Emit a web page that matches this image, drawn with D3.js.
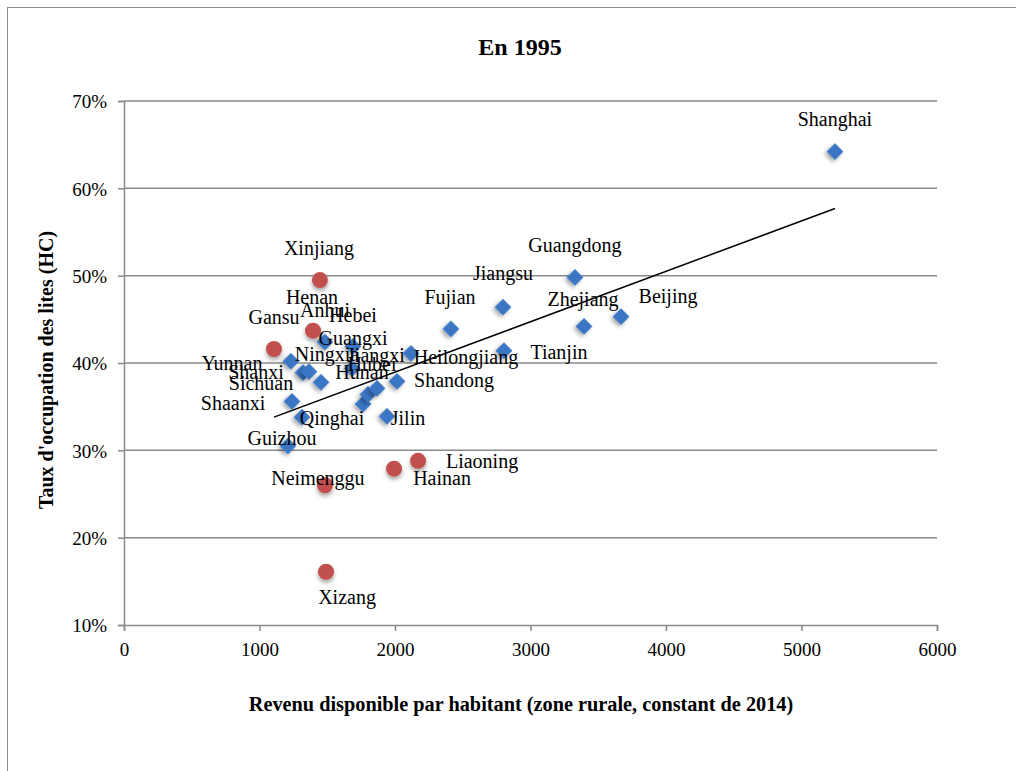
<!DOCTYPE html>
<html>
<head>
<meta charset="utf-8">
<script src="https://cdn.jsdelivr.net/npm/d3@7"></script>
<style>
  body { margin: 0; background: #fff; }
  svg text { font-family: "Liberation Serif", "Times New Roman", serif; fill: #000; }
</style>
</head>
<body>
<div id="chart"></div>
<script>
// Série 1 (losanges bleus)
const bleuNoms = ["Shanghai", "Guangdong", "Jiangsu", "Beijing", "Zhejiang", "Fujian", "Tianjin",
    "Heilongjiang", "Shandong", "Jilin", "Guizhou", "Shaanxi", "Yunnan", "Qinghai", "Ningxia",
    "Shanxi", "Sichuan", "Anhui", "Hebei", "Guangxi", "Hunan", "Hubei", "Jiangxi"];
const bleuRevenu = [5247, 3328, 2797, 3668, 3395, 2413, 2804, 2118, 2015, 1941, 1210, 1240, 1232,
    1314, 1321, 1365, 1454, 1483, 1690, 1683, 1764, 1801, 1867];
const bleuTaux = [0.642, 0.498, 0.464, 0.453, 0.442, 0.439, 0.414, 0.411, 0.379, 0.339, 0.305, 0.356,
    0.402, 0.338, 0.389, 0.390, 0.378, 0.424, 0.419, 0.394, 0.353, 0.364, 0.371];

// Série 2 (cercles rouges)
const rougeNoms = ["Xinjiang", "Henan", "Gansu", "Neimenggu", "Hainan", "Liaoning", "Xizang"];
const rougeRevenu = [1446, 1395, 1107, 1483, 1993, 2170, 1491];
const rougeTaux = [0.495, 0.437, 0.416, 0.260, 0.279, 0.288, 0.161];

const xTicks = [0, 1000, 2000, 3000, 4000, 5000, 6000];
const yTicks = [0.1, 0.2, 0.3, 0.4, 0.5, 0.6, 0.7];

// placement des étiquettes (centre du texte par rapport au point, en px)
const labelDecalage = {
    Shanghai: [0, -32], Guangdong: [0, -32], Jiangsu: [0, -34], Beijing: [47, -20],
    Zhejiang: [-1, -27], Fujian: [-1, -32], Tianjin: [55, 2], Heilongjiang: [55, 4],
    Shandong: [57, -1], Jilin: [21, 2], Guizhou: [-6, -8], Shaanxi: [-59, 2], Yunnan: [-59, 2],
    Qinghai: [30, 1], Ningxia: [24, -18], Shanxi: [-53, 1], Sichuan: [-60, 1], Anhui: [0, -32],
    Hebei: [0, -31], Guangxi: [1, -30], Hunan: [-1, -32], Hubei: [4, -30], Jiangxi: [-1, -33],
    Xinjiang: [-1, -32], Henan: [-1, -33], Gansu: [0, -32], Neimenggu: [-7, -7],
    Hainan: [48, 10], Liaoning: [64, 1], Xizang: [21, 26]
};

const width = 1016, height = 771;
const svg = d3.select("#chart").append("svg")
    .attr("width", width)
    .attr("height", height);

const defs = svg.append("defs");
const ombre = defs.append("filter").attr("id", "ombre")
    .attr("x", "-50%").attr("y", "-50%").attr("width", "200%").attr("height", "200%");
ombre.append("feDropShadow")
    .attr("dx", 0).attr("dy", 3).attr("stdDeviation", 2)
    .attr("flood-color", "#000").attr("flood-opacity", 0.35);

// cadre du graphique
svg.append("rect")
    .attr("x", 7.5).attr("y", 7.5)
    .attr("width", 1030).attr("height", 800)
    .attr("fill", "none")
    .attr("stroke", "#8c8c8c")
    .attr("stroke-width", 1);

const x = d3.scaleLinear().domain([0, 6000]).range([124, 937]);
const y = d3.scaleLinear().domain([0.1, 0.7]).range([625, 101]);

// quadrillage horizontal
svg.append("g")
    .selectAll("line")
    .data(yTicks.slice(1))
    .enter()
    .append("line")
    .attr("x1", x(0)).attr("x2", x(6000))
    .attr("y1", d => y(d)).attr("y2", d => y(d))
    .attr("stroke", "#8a8a8a")
    .attr("stroke-width", 1.5);

// axe Y
const yAxis = svg.append("g")
    .attr("transform", `translate(${x(0)},0)`)
    .call(d3.axisLeft(y).tickValues(yTicks).tickSize(6).tickPadding(11)
        .tickFormat(d => Math.round(d * 100) + "%"));
yAxis.select(".domain").attr("stroke", "#8a8a8a").attr("stroke-width", 1.5);
yAxis.selectAll(".tick line").attr("stroke", "#8a8a8a").attr("stroke-width", 1.5);
yAxis.selectAll(".tick text")
    .attr("font-family", null)
    .style("font-size", "19px")
    .attr("dy", "0.36em");

// axe X
const xAxis = svg.append("g")
    .attr("transform", `translate(0,${y(0.1)})`)
    .call(d3.axisBottom(x).tickValues(xTicks).tickSize(6).tickPadding(12)
        .tickFormat(d3.format("d")));
xAxis.select(".domain").attr("stroke", "#8a8a8a").attr("stroke-width", 1.5);
xAxis.selectAll(".tick line").attr("stroke", "#8a8a8a").attr("stroke-width", 1.5);
xAxis.selectAll(".tick text")
    .attr("font-family", null)
    .style("font-size", "19px");

// titres
svg.append("text")
    .attr("x", 520).attr("y", 55)
    .attr("text-anchor", "middle")
    .style("font-size", "24px")
    .style("font-weight", "bold")
    .text("En 1995");

svg.append("text")
    .attr("x", 521).attr("y", 711)
    .attr("text-anchor", "middle")
    .style("font-size", "20.3px")
    .style("font-weight", "bold")
    .text("Revenu disponible par habitant (zone rurale, constant de 2014)");

svg.append("text")
    .attr("transform", "translate(53,370) rotate(-90)")
    .attr("text-anchor", "middle")
    .style("font-size", "20px")
    .style("font-weight", "bold")
    .text("Taux d'occupation des lites (HC)");

// données combinées
const bleus = bleuNoms.map((n, i) => ({ nom: n, revenu: bleuRevenu[i], taux: bleuTaux[i] }));
const rouges = rougeNoms.map((n, i) => ({ nom: n, revenu: rougeRevenu[i], taux: rougeTaux[i] }));
const tous = bleus.concat(rouges);

// courbe de tendance linéaire (moindres carrés sur tous les points)
const mx = d3.mean(tous, d => d.revenu);
const my = d3.mean(tous, d => d.taux);
const pente = d3.sum(tous, d => (d.revenu - mx) * (d.taux - my)) /
    d3.sum(tous, d => (d.revenu - mx) ** 2);
const origine = my - pente * mx;
const [xmin, xmax] = d3.extent(tous, d => d.revenu);

svg.append("line")
    .attr("x1", x(xmin)).attr("y1", y(origine + pente * xmin))
    .attr("x2", x(xmax)).attr("y2", y(origine + pente * xmax))
    .attr("stroke", "#000")
    .attr("stroke-width", 1.5);

// marqueurs
const losange = d3.symbol().type(d3.symbolSquare).size(140);
svg.append("g")
    .selectAll("path")
    .data(bleus)
    .enter()
    .append("path")
    .attr("d", losange)
    .attr("transform", d => `translate(${x(d.revenu)},${y(d.taux)}) rotate(45)`)
    .attr("fill", "#3b76c4")
    .attr("filter", "url(#ombre)");

svg.append("g")
    .selectAll("circle")
    .data(rouges)
    .enter()
    .append("circle")
    .attr("cx", d => x(d.revenu))
    .attr("cy", d => y(d.taux))
    .attr("r", 8)
    .attr("fill", "#c0504d")
    .attr("filter", "url(#ombre)");

// étiquettes
svg.append("g")
    .selectAll("text")
    .data(tous)
    .enter()
    .append("text")
    .attr("x", d => x(d.revenu) + labelDecalage[d.nom][0])
    .attr("y", d => y(d.taux) + labelDecalage[d.nom][1])
    .attr("dy", "0.33em")
    .attr("text-anchor", "middle")
    .style("font-size", "20px")
    .text(d => d.nom);
</script>
</body>
</html>
